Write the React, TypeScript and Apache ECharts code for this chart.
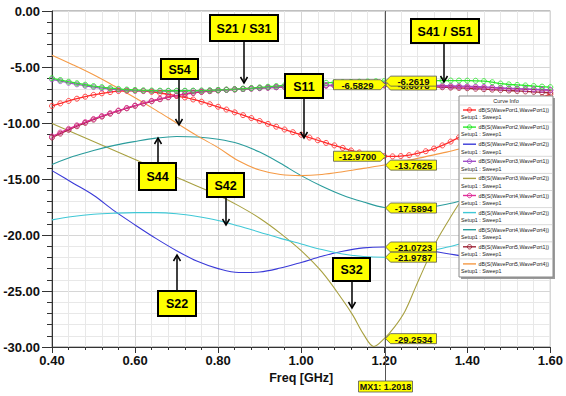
import { useEffect, useRef } from "react";
import * as echarts from "echarts";

// ---------- data ----------
const freqFine = [
  0.40, 0.42, 0.44, 0.46, 0.48, 0.50, 0.52, 0.54, 0.56, 0.58,
  0.60, 0.62, 0.64, 0.66, 0.68, 0.70, 0.72, 0.74, 0.76, 0.78,
  0.80, 0.82, 0.84, 0.86, 0.88, 0.90, 0.92, 0.94, 0.96, 0.98,
  1.00, 1.02, 1.04, 1.06, 1.08, 1.10, 1.12, 1.14, 1.16, 1.18,
  1.20, 1.22, 1.24, 1.26, 1.28, 1.30, 1.32, 1.34, 1.36, 1.38,
  1.40, 1.42, 1.44, 1.46, 1.48, 1.50, 1.52, 1.54, 1.56, 1.58,
  1.60,
];
const s11 = [
  -8.48, -8.25, -8.03, -7.83, -7.65, -7.49, -7.35, -7.24, -7.15, -7.12,
  -7.12, -7.15, -7.22, -7.32, -7.44, -7.57, -7.72, -7.90, -8.10, -8.32,
  -8.55, -8.80, -9.05, -9.30, -9.56, -9.82, -10.08, -10.33, -10.58, -10.82,
  -11.05, -11.30, -11.54, -11.78, -12.00, -12.22, -12.45, -12.63, -12.78, -12.90,
  -12.96, -12.98, -12.95, -12.87, -12.72, -12.52, -12.28, -12.00, -11.66, -11.28,
  -10.90, -10.50, -10.10, -9.70, -9.30, -8.95, -8.60, -8.28, -7.98, -7.70,
  -7.45,
];
const s21 = [
  -6.00, -6.16, -6.31, -6.45, -6.58, -6.70, -6.80, -6.88, -6.95, -7.01,
  -7.05, -7.08, -7.10, -7.11, -7.12, -7.12, -7.12, -7.11, -7.10, -7.08,
  -7.05, -7.02, -6.98, -6.93, -6.88, -6.82, -6.76, -6.70, -6.64, -6.58,
  -6.53, -6.49, -6.45, -6.41, -6.38, -6.35, -6.33, -6.31, -6.29, -6.27,
  -6.26, -6.25, -6.24, -6.23, -6.22, -6.22, -6.21, -6.21, -6.21, -6.21,
  -6.22, -6.23, -6.26, -6.36, -6.48, -6.55, -6.60, -6.65, -6.70, -6.75,
  -6.80,
];
const s31 = [
  -6.10, -6.26, -6.41, -6.55, -6.68, -6.79, -6.89, -6.97, -7.03, -7.08,
  -7.11, -7.13, -7.14, -7.15, -7.15, -7.15, -7.14, -7.13, -7.12, -7.10,
  -7.07, -7.04, -7.00, -6.96, -6.92, -6.88, -6.84, -6.80, -6.76, -6.73,
  -6.70, -6.68, -6.66, -6.64, -6.63, -6.62, -6.61, -6.60, -6.59, -6.59,
  -6.58, -6.58, -6.59, -6.60, -6.61, -6.62, -6.64, -6.66, -6.68, -6.70,
  -6.72, -6.75, -6.78, -6.82, -6.86, -6.90, -6.93, -6.96, -6.99, -7.02,
  -7.05,
];
const s41 = [
  -11.20, -10.85, -10.52, -10.21, -9.92, -9.64, -9.38, -9.13, -8.89, -8.66,
  -8.44, -8.23, -8.03, -7.85, -7.68, -7.53, -7.40, -7.29, -7.20, -7.13,
  -7.07, -7.02, -6.98, -6.94, -6.90, -6.86, -6.82, -6.78, -6.75, -6.72,
  -6.69, -6.67, -6.65, -6.64, -6.63, -6.62, -6.61, -6.61, -6.61, -6.61,
  -6.61, -6.62, -6.63, -6.65, -6.67, -6.69, -6.71, -6.73, -6.75, -6.77,
  -6.79, -6.81, -6.84, -6.87, -6.90, -6.93, -6.96, -6.99, -7.02, -7.05,
  -7.08,
];
const s51 = [
  -11.30, -10.95, -10.61, -10.29, -9.99, -9.70, -9.43, -9.17, -8.92, -8.69,
  -8.47, -8.26, -8.06, -7.88, -7.71, -7.56, -7.43, -7.32, -7.23, -7.16,
  -7.10, -7.05, -7.01, -6.97, -6.93, -6.89, -6.85, -6.81, -6.78, -6.75,
  -6.72, -6.70, -6.68, -6.67, -6.66, -6.65, -6.64, -6.64, -6.64, -6.64,
  -6.65, -6.66, -6.68, -6.70, -6.72, -6.75, -6.78, -6.81, -6.84, -6.87,
  -6.90, -6.94, -6.98, -7.02, -7.06, -7.10, -7.14, -7.18, -7.22, -7.26,
  -7.30,
];

const freqCoarse = [
  0.40, 0.45, 0.50, 0.55, 0.60, 0.65, 0.70, 0.75, 0.80, 0.85, 0.90, 0.95,
  1.00, 1.05, 1.10, 1.15, 1.20, 1.25, 1.30, 1.35, 1.40, 1.45, 1.50, 1.55, 1.60,
];
const s22 = [
  -14.25, -15.35, -16.45, -17.85, -19.1, -20.3, -21.4, -22.35, -23.0, -23.35, -23.3, -22.95,
  -22.45, -21.9, -21.45, -21.15, -21.07, -21.15, -21.35, -21.65, -21.95, -22.2, -22.4, -22.55, -22.65,
];
const s42 = [
  -18.65, -18.35, -18.15, -18.05, -18.0, -18.0, -18.1, -18.35, -18.7, -19.2, -19.75, -20.3,
  -20.8, -21.3, -21.7, -21.92, -21.98, -21.85, -21.5, -21.1, -20.6, -20.1, -19.6, -19.1, -18.7,
];
const s44 = [
  -13.7, -13.0, -12.45, -12.0, -11.65, -11.35, -11.2, -11.25, -11.45, -11.85, -12.6, -13.6,
  -14.7, -15.65, -16.45, -17.05, -17.55, -17.7, -17.55, -17.25, -16.8, -16.3, -15.7, -15.1, -14.5,
];
const s54 = [
  -3.95, -4.8, -5.7, -6.7, -7.75, -8.85, -10.0, -11.15, -12.2, -13.4, -14.2, -14.6,
  -14.7, -14.6, -14.35, -14.05, -13.75, -13.4, -13.0, -12.6, -12.15, -11.7, -11.25, -10.8, -10.4,
];
const freqS32 = [
  0.40, 0.45, 0.50, 0.55, 0.60, 0.65, 0.70, 0.75, 0.80, 0.85, 0.90, 0.95, 1.00, 1.05, 1.10,
  1.125, 1.15, 1.175, 1.20, 1.225, 1.25, 1.275, 1.30, 1.325, 1.35, 1.375,
  1.40, 1.45, 1.50, 1.55, 1.60,
];
const s32 = [
  -10.05, -10.85, -11.65, -12.45, -13.25, -14.05, -14.85, -15.65, -16.45, -17.4, -18.5, -19.85, -21.4, -23.3, -25.8,
  -27.2, -28.85, -29.95, -29.25, -28.2, -26.8, -24.7, -22.6, -20.6, -19.0, -17.5,
  -16.2, -14.2, -12.8, -11.8, -11.0,
];

const markerFreq = 1.2018;
// drawn in this order (later ones on top)
const readoutValues = [-6.5829, -6.6078, -6.2619, -12.97, -13.7625, -17.5894, -21.0723, -21.9787, -29.2534];
const readoutTexts = ["-6.5829", "-6.6078", "-6.2619", "-12.9700", "-13.7625", "-17.5894", "-21.0723", "-21.9787", "-29.2534"];
const readoutSides = ["L", "R", "R", "L", "R", "R", "R", "R", "R"];

const legendNames = [
  "dB(S(WavePort1,WavePort1))",
  "dB(S(WavePort2,WavePort1))",
  "dB(S(WavePort2,WavePort2))",
  "dB(S(WavePort3,WavePort1))",
  "dB(S(WavePort3,WavePort2))",
  "dB(S(WavePort4,WavePort1))",
  "dB(S(WavePort4,WavePort2))",
  "dB(S(WavePort4,WavePort4))",
  "dB(S(WavePort5,WavePort1))",
  "dB(S(WavePort5,WavePort4))",
];
const legendColors = ["#FF2B2B", "#2EE82E", "#3A3AD8", "#A050C8", "#A8A040", "#E0309A", "#40C8D6", "#2A9C9C", "#A0283A", "#F59A45"];
const legendHasMarker = [true, true, false, true, false, true, false, false, true, false];

const annotations = [
  { text: "S21 / S31", box: [210, 15, 68, 26], from: [244, 41], to: [244, 83] },
  { text: "S41 / S51", box: [411, 19, 68, 24], from: [444, 43], to: [444, 82] },
  { text: "S54", box: [161, 59, 37, 20], from: [179, 79], to: [179, 125] },
  { text: "S11", box: [285, 74, 38, 24], from: [304, 98], to: [304, 138] },
  { text: "S44", box: [139, 163, 37, 27], from: [158, 163], to: [158, 138] },
  { text: "S42", box: [207, 173, 37, 24], from: [226, 197], to: [226, 225] },
  { text: "S22", box: [158, 291, 38, 25], from: [177, 291], to: [177, 255] },
  { text: "S32", box: [333, 258, 37, 23], from: [352, 281], to: [352, 308] },
];

const FONT = "'Liberation Sans', Arial, sans-serif";

function pairs(xs: number[], ys: number[]) {
  return xs.map((x, i) => [x, ys[i]]);
}

export default function App() {
  const ref = useRef<HTMLDivElement>(null);

  useEffect(() => {
    if (!ref.current) return;
    const chart = echarts.init(ref.current, null, { renderer: "svg" });

    const mk = (idx: number, xs: number[], ys: number[], marker: boolean, z: number) => ({
      name: legendNames[idx],
      type: "line",
      data: pairs(xs, ys),
      smooth: 0.35,
      z,
      showSymbol: marker,
      symbol: "circle",
      symbolSize: 5,
      itemStyle: { color: "rgba(255,255,255,0)", borderColor: legendColors[idx], borderWidth: 1, opacity: 0.85 },
      lineStyle: { color: legendColors[idx], width: marker ? 1.3 : 1.1 },
      emphasis: { disabled: true },
    });

    const option: any = {
      animation: false,
      backgroundColor: "#ffffff",
      grid: { left: 52, right: 13, top: 11, bottom: 49, show: true, borderColor: "#808080", borderWidth: 1 },
      xAxis: {
        type: "value",
        min: 0.4,
        max: 1.6,
        interval: 0.2,
        name: "Freq [GHz]",
        nameLocation: "middle",
        nameGap: 21,
        nameTextStyle: { fontFamily: FONT, fontWeight: "bold", fontSize: 12.5, color: "#111" },
        axisLine: { show: true, onZero: false, lineStyle: { color: "#333", width: 1 } },
        axisTick: { show: true, length: 6, lineStyle: { color: "#333" } },
        minorTick: { show: true, splitNumber: 5, length: 3, lineStyle: { color: "#333" } },
        axisLabel: {
          margin: 7,
          fontFamily: FONT,
          fontWeight: "bold",
          fontSize: 13,
          color: "#111",
          formatter: (v: number) => v.toFixed(2),
        },
        splitLine: { show: true, lineStyle: { color: "#D6D6D6", width: 1 } },
        minorSplitLine: { show: true, lineStyle: { color: "#E8E8E8", width: 1 } },
      },
      yAxis: {
        type: "value",
        min: -30,
        max: 0,
        interval: 5,
        axisLine: { show: true, lineStyle: { color: "#333", width: 1 } },
        axisTick: { show: true, length: 10, lineStyle: { color: "#333" } },
        minorTick: { show: true, splitNumber: 5, length: 5, lineStyle: { color: "#333" } },
        axisLabel: {
          margin: 12,
          fontFamily: FONT,
          fontWeight: "bold",
          fontSize: 13,
          color: "#111",
          formatter: (v: number) => v.toFixed(2),
        },
        splitLine: { show: true, lineStyle: { color: "#D6D6D6", width: 1 } },
        minorSplitLine: { show: true, lineStyle: { color: "#E8E8E8", width: 1 } },
      },
      series: [
        mk(4, freqS32, s32, false, 2),
        mk(2, freqCoarse, s22, false, 2),
        mk(6, freqCoarse, s42, false, 2),
        mk(7, freqCoarse, s44, false, 2),
        mk(9, freqCoarse, s54, false, 2),
        mk(0, freqFine, s11, true, 3),
        mk(8, freqFine, s51, true, 3),
        mk(5, freqFine, s41, true, 3),
        mk(3, freqFine, s31, true, 3),
        mk(1, freqFine, s21, true, 3),
      ],
    };
    chart.setOption(option);

    const px = (x: number, y: number) => chart.convertToPixel({ gridIndex: 0 }, [x, y]) as number[];
    const top = px(markerFreq, 0);
    const mx = Math.round(top[0]) + 0.5;
    const g: any[] = [];

    // marker line + label
    g.push({ type: "line", z: 50, shape: { x1: mx, y1: top[1], x2: mx, y2: 381 }, style: { stroke: "#555", lineWidth: 1 } });
    g.push({ type: "rect", z: 50, shape: { x: mx - 27, y: 381, width: 54, height: 11 }, style: { fill: "#FFFF00", stroke: "#555", lineWidth: 0.8 } });
    g.push({ type: "text", z: 51, style: { x: mx, y: 386.5, text: "MX1: 1.2018", fill: "#111", font: `bold 9px ${FONT}`, align: "center", verticalAlign: "middle" } });

    // readouts
    readoutValues.forEach((v, i) => {
      const p = px(markerFreq, v);
      const yc = p[1];
      const h = 5;
      let pts: number[][];
      let tx: number;
      if (readoutSides[i] === "L") {
        pts = [[mx, yc], [mx - 5, yc - h], [mx - 52, yc - h], [mx - 52, yc + h], [mx - 5, yc + h]];
        tx = mx - 28;
      } else {
        pts = [[mx, yc], [mx + 5, yc - h], [mx + 51, yc - h], [mx + 51, yc + h], [mx + 5, yc + h]];
        tx = mx + 28;
      }
      const z = 60 + i;
      g.push({ type: "polygon", z, shape: { points: pts }, style: { fill: "#FFFF00", stroke: "#555", lineWidth: 0.8 } });
      g.push({ type: "text", z, style: { x: tx, y: yc + 0.5, text: readoutTexts[i], fill: "#111", font: `bold 9.5px ${FONT}`, align: "center", verticalAlign: "middle" } });
    });

    // annotations
    annotations.forEach((a) => {
      const [bx, by, bw, bh] = a.box;
      const [fx, fy] = a.from;
      const [tx, ty] = a.to;
      const dir = ty > fy ? 1 : -1;
      g.push({ type: "line", z: 70, shape: { x1: fx, y1: fy, x2: tx, y2: ty }, style: { stroke: "#000", lineWidth: 1.5 } });
      g.push({ type: "polyline", z: 70, shape: { points: [[tx - 3.5, ty - dir * 6], [tx, ty], [tx + 3.5, ty - dir * 6]] }, style: { stroke: "#000", lineWidth: 1.5, fill: null } });
      g.push({ type: "rect", z: 71, shape: { x: bx, y: by, width: bw, height: bh }, style: { fill: "#FFFF00", stroke: "#000", lineWidth: 2 } });
      g.push({ type: "text", z: 72, style: { x: bx + bw / 2, y: by + bh / 2 + 0.5, text: a.text, fill: "#000", font: `bold 12.5px ${FONT}`, align: "center", verticalAlign: "middle" } });
    });

    // legend (Curve Info)
    const lx = 459, ly = 96, lw = 94, lh = 181;
    g.push({ type: "rect", z: 80, shape: { x: lx + 2, y: ly + 2, width: lw, height: lh }, style: { fill: "#9A9A9A" } });
    g.push({ type: "rect", z: 81, shape: { x: lx, y: ly, width: lw, height: lh }, style: { fill: "#FFFFFF", stroke: "#888", lineWidth: 1 } });
    g.push({ type: "text", z: 82, style: { x: lx + lw / 2, y: ly + 4.8, text: "Curve Info", fill: "#222", font: `5.5px ${FONT}`, align: "center", verticalAlign: "middle" } });
    legendNames.forEach((n, i) => {
      const y0 = 105 + 17.1 * i;
      g.push({ type: "line", z: 82, shape: { x1: lx + 1, y1: y0, x2: lx + lw - 1, y2: y0 }, style: { stroke: "#CFCFCF", lineWidth: 0.8 } });
      g.push({ type: "line", z: 82, shape: { x1: lx + 4, y1: y0 + 5, x2: lx + 17, y2: y0 + 5 }, style: { stroke: legendColors[i], lineWidth: 1.4 } });
      if (legendHasMarker[i]) {
        g.push({ type: "circle", z: 83, shape: { cx: lx + 10.5, cy: y0 + 5, r: 2.2 }, style: { fill: "none", stroke: legendColors[i], lineWidth: 1 } });
      }
      g.push({ type: "text", z: 82, style: { x: lx + 19.5, y: y0 + 5, text: n, fill: "#222", font: `5.3px ${FONT}`, align: "left", verticalAlign: "middle" } });
      g.push({ type: "text", z: 82, style: { x: lx + 2, y: y0 + 12.3, text: "Setup1 : Sweep1", fill: "#222", font: `5.3px ${FONT}`, align: "left", verticalAlign: "middle" } });
    });

    chart.setOption({ graphic: g });
    return () => chart.dispose();
  }, []);

  return <div ref={ref} style={{ position: "absolute", left: 0, top: 0, width: 566, height: 396 }} />;
}
